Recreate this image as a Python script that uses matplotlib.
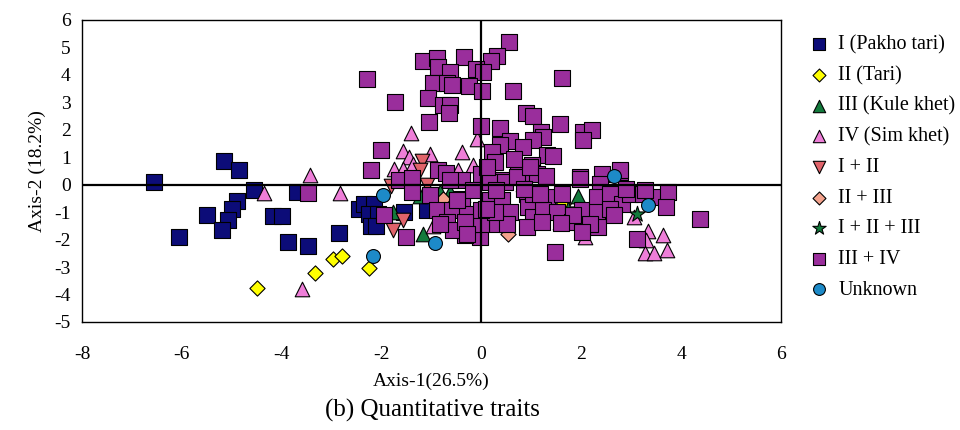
import matplotlib
matplotlib.use("Agg")
import matplotlib.pyplot as plt

plt.rcParams['font.family'] = ['Liberation Serif', 'DejaVu Serif']
plt.rcParams['axes.unicode_minus'] = False

# PCA scores per group (Axis-1, Axis-2)
pakho_x = [-6.55, -6.05, -5.15, -4.85, -4.55, -5.5, -4.9, -5.0, -5.08, -5.2, -4.17, -4.0, -3.87,
           -3.7, -3.47, -2.85, -2.45, -2.36, -2.16, -2.26, -2.08, -2.22, -2.12, -1.56, -1.08]
pakho_y = [0.1, -1.9, 0.85, 0.55, -0.2, -1.1, -0.6, -0.88, -1.3, -1.65, -1.15, -1.15, -2.1,
           -0.28, -2.25, -1.75, -0.9, -0.72, -0.72, -1.08, -1.08, -1.5, -1.5, -0.98, -0.92]

tari_x = [-4.5, -3.33, -2.97, -2.8, -2.26, 1.18, 1.64]
tari_y = [-3.75, -3.2, -2.72, -2.58, -3.05, -0.92, -0.7]

kule_x = [-1.22, -0.82, -0.62, -1.16, -1.78, 0.2, 0.84, 1.94]
kule_y = [-0.4, -0.26, -0.26, -1.8, -1.0, 0.47, 0.04, -0.4]

sim_x = [-3.43, -4.35, -2.83, -3.6, -1.42, -1.58, -1.02, -0.38, -0.08, -1.76, -1.46, -1.58, -0.46,
         -0.16, -1.36, 3.05, 3.33, 3.63, 3.29, 3.27, 3.45, 3.71, 2.08, 1.58, -0.96]
sim_y = [0.36, -0.31, -0.3, -3.8, 1.9, 1.24, 1.13, 1.2, 1.68, 0.58, 1.02, 0.58, 0.55,
         0.73, 0.77, -1.17, -1.68, -1.82, -2.0, -2.5, -2.5, -2.37, -1.9, -1.35, -1.5]

i_ii_x = [-1.18, -1.22, -1.82, -1.08, -1.58, -1.78, -0.36]
i_ii_y = [0.88, 0.55, -0.05, 0.0, -1.28, -1.66, -0.87]

ii_iii_x = [-0.77, 0.54]
ii_iii_y = [-0.52, -1.79]

i_ii_iii_x = [3.12, 1.74]
i_ii_iii_y = [-1.05, -0.88]

iii_iv_x = [0.55, 0.32, 0.2, -0.34, -1.16, -0.88, -0.86, -0.62, -0.1, 0.04, -0.96, -0.68, -0.58,
            -0.24, 0.02, 0.64, -1.06, -1.74, -0.76, -0.62, -0.64, -1.04, 0.0, 0.9, 1.04, 0.38,
            -2.3, 1.62, 1.58, 2.04, 2.22, 2.04, -2.02, -2.22,
            0.58, 1.2, 1.24, 1.04, 0.84, 0.38, 0.22, 0.28, 1.32, 1.44, 1.02, 0.74, 1.02, 1.98,
            2.42, 2.78, 0.0, 0.18, 0.44,
            -0.86, -0.7, -0.38, -1.66, -1.38, -1.4, -1.02, -1.96, -0.88, -0.58, -0.68, -0.38,
            -0.28, -0.16, 0.18, 0.48, 0.18, 0.42, 0.58, 0.32, 0.52, -0.02, -0.32, -0.56, -0.82,
            -1.52, 1.12, 0.92, 0.94, 1.04, 0.92, -0.22, -0.48, 0.0, -0.62, 0.12, 0.72, 0.28,
            0.0, -0.32,
            1.98, 2.38, 2.78, 1.32, 1.62, 1.04, 1.24, 1.52, 1.22, 1.82, 2.02, 2.32, 2.32, 2.34,
            2.58, 2.82, 2.98, 3.24, 3.5, 3.74, 3.7, 3.12, 0.98, 2.58, 2.18, 1.84, 2.02, 1.18,
            4.38, 3.28, 1.48, -0.28, -3.48, 1.6, 2.9, 2.65,
            0.66, 0.86, 0.3, 1.3, 0.1]
iii_iv_y = [5.2, 4.7, 4.5, 4.67, 4.5, 4.6, 4.3, 4.1, 4.2, 4.1, 3.7, 3.7, 3.65,
            3.6, 3.4, 3.4, 3.15, 3.0, 2.9, 2.9, 2.6, 2.3, 2.15, 2.6, 2.5, 2.05,
            3.85, 3.87, 2.2, 1.93, 2.0, 1.64, 1.28, 0.55,
            1.6, 1.93, 1.72, 1.64, 1.39, 1.46, 1.2, 0.84, 1.09, 1.06, 0.73, 0.4, 0.44, 0.29,
            0.4, 0.47, 0.4, 0.18, 0.18,
            0.55, 0.44, 0.18, 0.18, 0.26, -0.26, -0.36, -1.09, -0.91, -0.91, -1.35, -0.51,
            -1.06, -0.18, 0.11, 0.11, -0.55, -0.55, -0.99, -1.42, -1.42, -1.9, -1.82, -1.64, -1.42,
            -1.9, 0.4, -0.33, -0.8, -1.17, -1.53, -1.42, -0.55, -1.42, 0.18, 0.66, 0.29, -0.99,
            -0.91, -1.35,
            0.22, 0.04, 0.55, -0.44, -0.33, -0.33, -0.91, -0.99, -1.35, -1.35, -0.91, -0.44, -0.99, -1.53,
            -0.33, -0.69, -0.33, -0.33, -0.44, -0.26, -0.8, -1.97, 0.66, -0.88, -1.42, -1.09, -1.71, -0.33,
            -1.25, -0.18, -2.45, -1.79, -0.29, -1.4, -0.15, -1.1,
            0.95, -0.15, -0.2, 0.3, -0.9]

unknown_x = [-1.98, 2.65, -0.92, -2.18, 3.33]
unknown_y = [-0.36, 0.3, -2.12, -2.6, -0.74]

groups = [
    ('I (Pakho tari)', pakho_x, pakho_y, 's', '#0c0c78', 120),
    ('II (Tari)', tari_x, tari_y, 'D', '#ffff00', 60),
    ('III (Kule khet)', kule_x, kule_y, '^', '#137a3c', 110),
    ('IV (Sim khet)', sim_x, sim_y, '^', '#ee7ed8', 110),
    ('I + II', i_ii_x, i_ii_y, 'v', '#e0636a', 110),
    ('II + III', ii_iii_x, ii_iii_y, 'D', '#f4a28c', 60),
    ('I + II + III', i_ii_iii_x, i_ii_iii_y, '*', '#137a3c', 140),
    ('III + IV', iii_iv_x, iii_iv_y, 's', '#9a2e9c', 120),
    ('Unknown', unknown_x, unknown_y, 'o', '#1d8ac8', 100),
]

fig = plt.figure(figsize=(9.6, 4.3), dpi=100)
ax = fig.add_axes([0.0854, 0.2512, 0.7281, 0.7023])

for label, xs, ys, m, c, s in groups:
    ax.scatter(xs, ys, marker=m, s=s, c=c, edgecolors='black', linewidths=0.8, label=label, zorder=2)

ax.axhline(0, color='black', lw=1.6, zorder=3)
ax.axvline(0, color='black', lw=1.6, zorder=3)

ax.set_xlim(-8, 6)
ax.set_ylim(-5, 6)
ax.set_xticks(range(-8, 7, 2))
ax.set_yticks(range(-5, 7))
ax.tick_params(length=0, labelsize=14)
ax.tick_params(axis='x', pad=17)
ax.tick_params(axis='y', pad=8)
for sp in ax.spines.values():
    sp.set_linewidth(1.0)

ax.set_xlabel('Axis-1(26.5%)', fontsize=14, labelpad=7)
ax.set_ylabel('Axis-2 (18.2%)', fontsize=14, labelpad=6)
fig.text(0.45, 0.045, '(b) Quantitative traits', fontsize=18, ha='center', va='center')

fig.legend(loc='upper left', bbox_to_anchor=(0.843, 0.918), frameon=False, fontsize=14.5,
           handlelength=1.0, handletextpad=0.45, labelspacing=0.57, borderpad=0,
           borderaxespad=0, markerscale=0.85)

fig.savefig('out.png', dpi=100, facecolor='white')
